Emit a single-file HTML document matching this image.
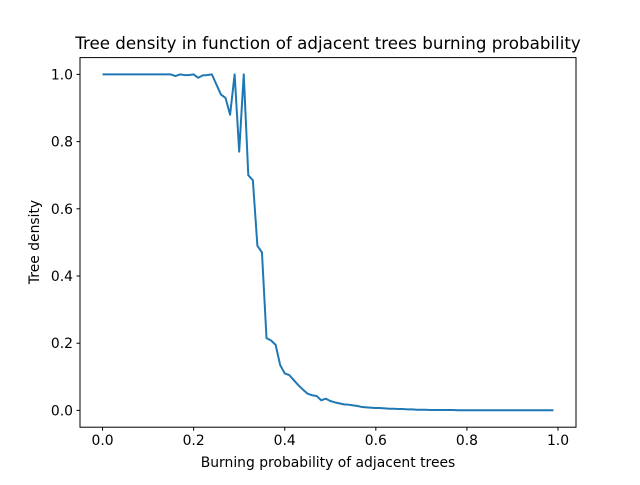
<!DOCTYPE html>
<html><head><meta charset="utf-8"><style>
body{margin:0;background:#fff}
svg text{font-family:"DejaVu Sans","Liberation Sans",sans-serif;fill:#000}
</style></head><body>
<svg id="chart" width="640" height="480" viewBox="0 0 640 480">
<rect width="640" height="480" fill="#fff"/>
<text x="328" y="49" font-size="16.7" text-anchor="middle">Tree density in function of adjacent trees burning probability</text>
<g id="ticks"></g>
<path id="line" fill="none" stroke="#1f77b4" stroke-width="2" stroke-linejoin="round"/>
<rect x="80" y="57.6" width="496" height="369.6" fill="none" stroke="#000" stroke-width="1"/>
<text x="328" y="467" font-size="13.9" text-anchor="middle">Burning probability of adjacent trees</text>
<text transform="translate(39,242) rotate(-90)" font-size="13.9" text-anchor="middle">Tree density</text>
</svg>
<script>
const densities = [1,1,1,1,1,1,1,1,1,1,1,1,1,1,1,1,0.995,1,0.998,0.998,1,0.99,0.997,0.998,1,0.97,0.94,0.93,0.88,1,0.77,1,0.70,0.685,0.49,0.47,0.215,0.208,0.195,0.135,0.11,0.105,0.09,0.075,0.062,0.05,0.045,0.043,0.03,0.035,0.028,0.024,0.021,0.018,0.017,0.015,0.013,0.01,0.009,0.008,0.007,0.007,0.006,0.005,0.005,0.004,0.004,0.003,0.003,0.002,0.002,0.002,0.001,0.001,0.001,0.001,0.001,0.001,0.0005,0.0005,0.0005,0.0005,0.0005,0.0005,0.0005,0.0005,0.0005,0.0005,0.0005,0.0005,0.0005,0.0005,0.0005,0.0005,0.0005,0.0005,0.0005,0.0005,0.0005,0.0005];
const xStep = 0.01;
const xTicks = [0,0.2,0.4,0.6,0.8,1.0];
const xTickLabels = ["0.0","0.2","0.4","0.6","0.8","1.0"];
const yTicks = [0,0.2,0.4,0.6,0.8,1.0];
const yTickLabels = ["0.0","0.2","0.4","0.6","0.8","1.0"];

const xMin=-0.0495,xMax=1.0395,yMin=-0.05,yMax=1.05;
const L=80,R=576,T=57.6,B=427.2;
const sx=v=>L+(v-xMin)/(xMax-xMin)*(R-L);
const sy=v=>B-(v-yMin)/(yMax-yMin)*(B-T);
const NS="http://www.w3.org/2000/svg";
const g=document.getElementById('ticks');
function mk(tag,attrs){const e=document.createElementNS(NS,tag);for(const k in attrs)e.setAttribute(k,attrs[k]);g.appendChild(e);return e;}
xTicks.forEach((t,i)=>{
  const l=mk('line',{x1:sx(t),x2:sx(t),y1:B,y2:B+3.5,stroke:'#000'});
  
  
  const tx=mk('text',{x:sx(t),y:B+18,'font-size':13.9,'text-anchor':'middle'});
  tx.textContent=xTickLabels[i];
  
  
});
yTicks.forEach((t,i)=>{
  const l=mk('line',{x1:L-3.5,x2:L,y1:sy(t),y2:sy(t),stroke:'#000'});
  
  
  const tx=mk('text',{x:L-7,y:sy(t)+5,'font-size':13.9,'text-anchor':'end'});
  tx.textContent=yTickLabels[i];
  
  
});
document.getElementById('line').setAttribute('d',densities.map((v,i)=>(i?'L':'M')+sx(i*xStep).toFixed(2)+','+sy(v).toFixed(2)).join(''));
</script>
</body></html>
